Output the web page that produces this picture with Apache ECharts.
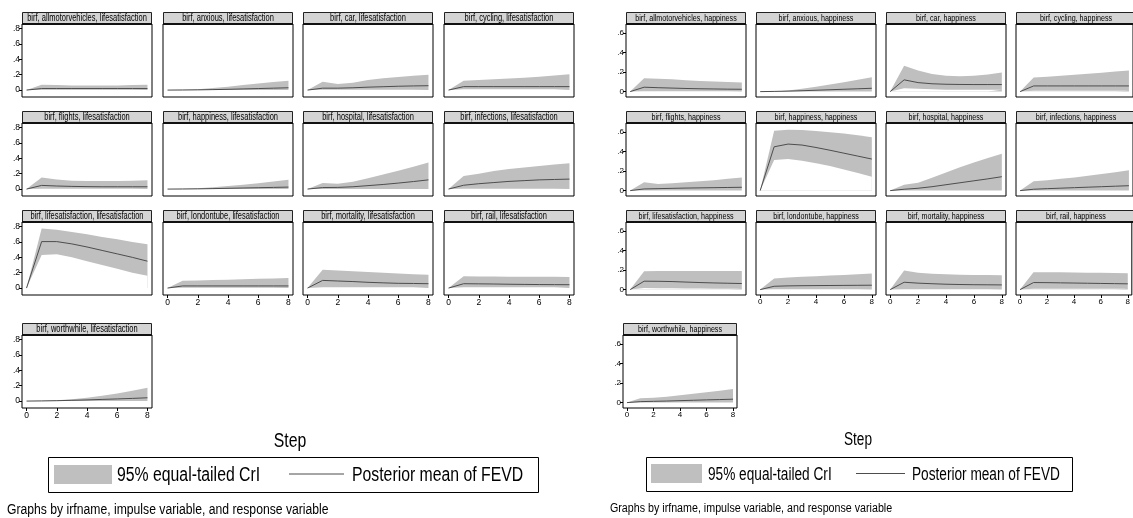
<!DOCTYPE html>
<html><head><meta charset="utf-8">
<script src="https://cdn.jsdelivr.net/npm/echarts@6/dist/echarts.min.js"></script>
<style>html,body{margin:0;padding:0;background:#fff}#c{width:1133px;height:518px}</style>
</head><body><div id="c"></div>
<script>
// ---------------- data ----------------
const steps = [0, 1, 2, 3, 4, 5, 6, 7, 8];
const impulses = ['allmotorvehicles', 'anxious', 'car', 'cycling', 'flights', 'happiness', 'hospital',
  'infections', 'lifesatisfaction', 'londontube', 'mortality', 'rail', 'worthwhile'];
const responses = ['lifesatisfaction', 'happiness'];
const yTicksLS = [0, 0.2, 0.4, 0.6, 0.8];
const yTicksHap = [0, 0.2, 0.4, 0.6];
const xTicks = [0, 2, 4, 6, 8];
const legendBand = '95% equal-tailed CrI';
const legendLine = 'Posterior mean of FEVD';
const xTitle = 'Step';
const note = 'Graphs by irfname, impulse variable, and response variable';

// response: lifesatisfaction
const lsMean = [
  [0, .02, .02, .02, .02, .02, .02, .02, .02],
  [0, .001, .003, .006, .01, .015, .02, .025, .03],
  [0, .025, .025, .03, .038, .044, .05, .054, .057],
  [0, .045, .045, .045, .045, .045, .045, .045, .045],
  [0, .048, .04, .035, .032, .03, .03, .03, .03],
  [0, .001, .003, .006, .01, .014, .018, .022, .026],
  [0, .02, .022, .03, .045, .06, .078, .098, .12],
  [0, .05, .07, .085, .1, .11, .12, .125, .13],
  [0, .605, .605, .575, .535, .49, .445, .4, .35],
  [0, .028, .028, .028, .028, .028, .028, .028, .028],
  [0, .1, .092, .085, .075, .068, .062, .06, .057],
  [0, .057, .055, .053, .05, .048, .046, .045, .044],
  [0, .002, .005, .01, .015, .022, .028, .035, .043]
];
const lsLower = [
  [0, .005, .005, .005, .005, .005, .005, .005, .005],
  [0, 0, 0, 0, 0, 0, 0, 0, 0],
  [0, .003, .003, .003, .003, .003, .003, .003, .003],
  [0, .01, .01, .01, .01, .01, .01, .01, .01],
  [0, .005, .005, .005, .005, .005, .005, .005, .005],
  [0, 0, 0, 0, 0, 0, 0, 0, 0],
  [0, .002, .002, .002, .002, .002, .002, .002, .002],
  [0, .005, .005, .005, .005, .005, .005, .005, .005],
  [0, .43, .44, .40, .35, .30, .25, .2, .16],
  [0, .003, .003, .003, .003, .003, .003, .003, .003],
  [0, .01, .01, .01, .01, .01, .01, .01, .01],
  [0, .01, .01, .01, .01, .01, .01, .01, .01],
  [0, 0, 0, 0, 0, 0, 0, 0, 0]
];
const lsUpper = [
  [0, .07, .065, .06, .06, .06, .06, .065, .07],
  [0, .003, .012, .027, .045, .065, .085, .105, .12],
  [0, .107, .08, .095, .13, .155, .17, .185, .2],
  [0, .12, .13, .14, .15, .16, .175, .19, .205],
  [0, .15, .125, .11, .105, .105, .105, .11, .115],
  [0, .004, .012, .025, .04, .058, .077, .098, .12],
  [0, .078, .07, .095, .14, .19, .24, .29, .345],
  [0, .17, .2, .235, .26, .28, .3, .32, .335],
  [0, .775, .76, .73, .70, .665, .635, .60, .57],
  [0, .095, .1, .105, .11, .115, .12, .125, .13],
  [0, .24, .23, .22, .21, .2, .19, .18, .175],
  [0, .153, .152, .15, .149, .148, .147, .146, .145],
  [0, .003, .01, .025, .045, .07, .1, .135, .173]
];
// response: happiness
const hapMean = [
  [0, .045, .04, .036, .032, .029, .027, .025, .024],
  [0, .002, .005, .009, .014, .019, .024, .029, .034],
  [0, .12, .092, .08, .075, .073, .072, .072, .072],
  [0, .058, .058, .058, .058, .058, .058, .058, .058],
  [0, .017, .02, .023, .026, .028, .03, .032, .034],
  [0, .447, .475, .465, .44, .412, .382, .352, .322],
  [0, .014, .024, .04, .06, .08, .1, .12, .142],
  [0, .014, .02, .025, .03, .035, .04, .045, .05],
  [0, .086, .085, .082, .077, .072, .068, .065, .062],
  [0, .034, .038, .04, .041, .042, .043, .044, .045],
  [0, .075, .066, .06, .055, .052, .05, .049, .048],
  [0, .072, .071, .069, .067, .065, .063, .061, .059],
  [0, .01, .013, .016, .02, .024, .028, .031, .035]
];
const hapLower = [
  [0, .005, .005, .005, .005, .005, .005, .005, .005],
  [0, 0, 0, 0, 0, 0, 0, 0, 0],
  [0, .035, .03, .025, .02, .02, .02, .02, .02],
  [0, .01, .01, .01, .01, .01, .01, .01, .01],
  [0, .002, .002, .002, .002, .002, .002, .002, .002],
  [0, .312, .322, .305, .28, .25, .215, .18, .142],
  [0, 0, 0, 0, 0, 0, 0, 0, 0],
  [0, .002, .002, .002, .002, .002, .002, .002, .002],
  [0, .017, .015, .013, .012, .011, .01, .01, .01],
  [0, .005, .005, .005, .005, .005, .005, .005, .005],
  [0, .005, .005, .005, .005, .005, .005, .005, .005],
  [0, .01, .01, .01, .01, .01, .01, .01, .01],
  [0, .001, .001, .001, .001, .001, .001, .001, .001]
];
const hapUpper = [
  [0, .137, .13, .125, .115, .108, .102, .097, .092],
  [0, .002, .012, .03, .05, .072, .095, .12, .147],
  [0, .265, .215, .18, .163, .158, .163, .175, .195],
  [0, .144, .152, .162, .172, .182, .192, .204, .216],
  [0, .085, .068, .075, .085, .095, .107, .12, .135],
  [0, .61, .622, .618, .608, .596, .584, .566, .545],
  [0, .061, .081, .13, .185, .238, .288, .332, .376],
  [0, .095, .105, .12, .135, .152, .17, .188, .207],
  [0, .188, .19, .19, .19, .19, .19, .19, .19],
  [0, .113, .123, .13, .137, .143, .15, .157, .164],
  [0, .195, .172, .162, .156, .152, .15, .148, .147],
  [0, .178, .177, .176, .175, .173, .171, .17, .168],
  [0, .045, .05, .06, .075, .09, .105, .12, .138]
];

// ---------------- layout / style ----------------
const FONT = "'Liberation Sans', Arial, Helvetica, sans-serif";
const BAND = '#bfbfbf', HDR = '#d4d4d4', LINE = '#4d4d4d';
const rowTops = [12, 111, 210, 323], hdrH = 12, plotH = 73;

const panels = [
  { resp: responses[0], mean: lsMean, lower: lsLower, upper: lsUpper, yTicks: yTicksLS, ymin: -0.09, ymax: 0.86,
    cols: [22, 163, 303, 444], colW: 130, lastCol: null, hdrFont: 10, tickFont: 8.5,
    legend: { x: 48, y: 457, w: 490, h: 35, sw: [54, 465, 58, 19], t1: 117, l: [289, 344], t2: 352, fs: 20, sx: 0.79 },
    step: { x: 290, y: 441, fs: 20, sx: 0.79 }, note: { x: 7, y: 510, fs: 14, sx: 0.87 } },
  { resp: responses[1], mean: hapMean, lower: hapLower, upper: hapUpper, yTicks: yTicksHap, ymin: -0.055, ymax: 0.69,
    cols: [626, 756, 886, 1016], colW: 120, lastCol: { left: 623, width: 114 }, hdrFont: 9.5, tickFont: 8,
    legend: { x: 646, y: 457, w: 426, h: 34, sw: [651, 464, 51, 19], t1: 708, l: [856, 905], t2: 912, fs: 17.5, sx: 0.78 },
    step: { x: 858, y: 440, fs: 17.5, sx: 0.78 }, note: { x: 610, y: 509, fs: 12.5, sx: 0.855 } }
];

function txt(x, y, text, fs, sx, align) {
  return { type: 'text', silent: true, z: 102, x, y, scaleX: sx, scaleY: 1,
    style: { text, fill: '#000', fontSize: fs, fontFamily: FONT, align, verticalAlign: 'middle' } };
}

const grid = [], xAxis = [], yAxis = [], series = [], graphic = [];
let g = 0;
panels.forEach(p => {
  impulses.forEach((imp, k) => {
    const row = Math.floor(k / 4), col = k % 4;
    let left = p.cols[col], width = p.colW;
    if (row === 3 && p.lastCol) { left = p.lastCol.left; width = p.lastCol.width; }
    const top = rowTops[row] + hdrH;
    const showX = row === 3 || (row === 2 && col > 0);
    const showY = col === 0;
    grid.push({ left, top, width, height: plotH, show: true, borderColor: '#000', borderWidth: 1, backgroundColor: '#fff' });
    xAxis.push({ gridIndex: g, type: 'value', min: -0.3, max: 8.3,
      axisLine: { show: false, onZero: false }, splitLine: { show: false },
      axisTick: { show: showX, length: 3, customValues: xTicks, lineStyle: { color: '#000' } },
      axisLabel: { show: showX, customValues: xTicks, margin: 3, color: '#000', fontSize: p.tickFont, fontFamily: FONT } });
    yAxis.push({ gridIndex: g, type: 'value', min: p.ymin, max: p.ymax,
      axisLine: { show: false, onZero: false }, splitLine: { show: false },
      axisTick: { show: showY, length: 3, customValues: p.yTicks, lineStyle: { color: '#000' } },
      axisLabel: { show: showY, customValues: p.yTicks, margin: 2, color: '#000', fontSize: p.tickFont, fontFamily: FONT,
        formatter: v => v === 0 ? '0' : v.toFixed(1).replace(/^0/, '') } });
    const lo = p.lower[k], up = p.upper[k], mn = p.mean[k];
    // credible band: upper bound filled grey, region below lower bound restored to plot background
    series.push({ type: 'line', name: legendBand, xAxisIndex: g, yAxisIndex: g, symbol: 'none', silent: true, z: 2,
      lineStyle: { width: 0, opacity: 0 }, areaStyle: { color: BAND, opacity: 1 },
      data: steps.map((s, i) => [s, up[i]]) });
    series.push({ type: 'line', xAxisIndex: g, yAxisIndex: g, symbol: 'none', silent: true, z: 3,
      lineStyle: { width: 0, opacity: 0 }, areaStyle: { color: '#fff', opacity: 1 },
      data: steps.map((s, i) => [s, lo[i]]) });
    series.push({ type: 'line', name: legendLine, xAxisIndex: g, yAxisIndex: g, symbol: 'none', silent: true, z: 5,
      lineStyle: { color: LINE, width: 1 }, data: steps.map((s, i) => [s, mn[i]]) });
    // header strip
    const ht = rowTops[row];
    graphic.push({ type: 'rect', silent: true, z: 100, shape: { x: left + 0.5, y: ht + 0.5, width: width - 1, height: hdrH },
      style: { fill: HDR, stroke: '#222', lineWidth: 1 } });
    graphic.push({ type: 'line', silent: true, z: 101, shape: { x1: left, y1: top, x2: left + width, y2: top },
      style: { stroke: '#111', lineWidth: 2 } });
    graphic.push(txt(left + width / 2, ht + hdrH / 2 + 0.5, `birf, ${imp}, ${p.resp}`, p.hdrFont, 0.75, 'center'));
    g++;
  });
  const L = p.legend;
  graphic.push({ type: 'rect', silent: true, shape: { x: L.x + 0.5, y: L.y + 0.5, width: L.w, height: L.h },
    style: { fill: '#fff', stroke: '#000', lineWidth: 1 } });
  graphic.push({ type: 'rect', silent: true, shape: { x: L.sw[0], y: L.sw[1], width: L.sw[2], height: L.sw[3] }, style: { fill: BAND } });
  graphic.push(txt(L.t1, L.y + L.h / 2 + 1, legendBand, L.fs, L.sx, 'left'));
  graphic.push({ type: 'line', silent: true, shape: { x1: L.l[0], y1: L.y + L.h / 2 - 0.5, x2: L.l[1], y2: L.y + L.h / 2 - 0.5 },
    style: { stroke: LINE, lineWidth: 1 } });
  graphic.push(txt(L.t2, L.y + L.h / 2 + 1, legendLine, L.fs, L.sx, 'left'));
  graphic.push(txt(p.step.x, p.step.y, xTitle, p.step.fs, p.step.sx, 'center'));
  graphic.push(txt(p.note.x, p.note.y, note, p.note.fs, p.note.sx, 'left'));
});

const chart = echarts.init(document.getElementById('c'), null, { renderer: 'canvas' });
chart.setOption({ animation: false, backgroundColor: '#fff', grid, xAxis, yAxis, series, graphic });
</script></body></html>
